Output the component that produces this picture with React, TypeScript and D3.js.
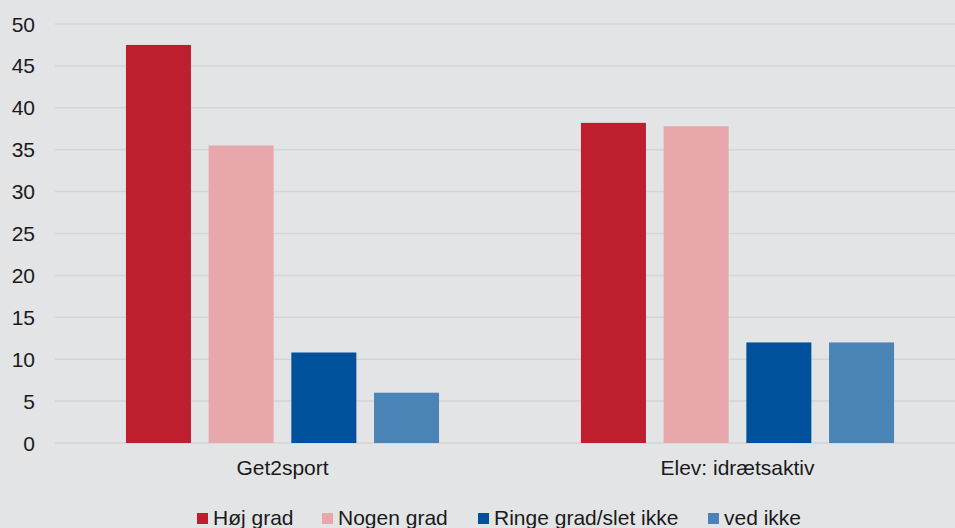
import * as d3 from "d3";
import React, { useEffect, useRef } from "react";

const categories = ["Get2sport", "Elev: idrætsaktiv"];
const seriesNames = ["Høj grad", "Nogen grad", "Ringe grad/slet ikke", "ved ikke"];
const seriesColors = ["#be1e2d", "#e8a7ab", "#00519c", "#4a83b6"];
const get2sportValues = [47.5, 35.5, 10.8, 6.0];
const elevValues = [38.2, 37.8, 12.0, 12.0];
const yTicks = [0, 5, 10, 15, 20, 25, 30, 35, 40, 45, 50];

const FONT = "'Liberation Sans', Arial, sans-serif";

const App = () => {
  const svgRef = useRef<SVGSVGElement>(null);

  useEffect(() => {
    const width = 955;
    const height = 528;
    const rows = [get2sportValues, elevValues];

    const svg = d3.select(svgRef.current).attr("width", width).attr("height", height);
    svg.selectAll("*").remove();

    svg.append("rect").attr("width", width).attr("height", height).attr("fill", "#e3e4e6");

    const y = d3.scaleLinear().domain([0, 50]).range([443, 24]);
    const x0 = d3
      .scaleBand<string>()
      .domain(categories)
      .range([55, 965])
      .paddingInner(0.273)
      .paddingOuter(0.1365);
    const x1 = d3
      .scaleBand<string>()
      .domain(seriesNames)
      .range([0, x0.bandwidth()])
      .paddingInner(0.214)
      .paddingOuter(0.107);

    // gridlines
    svg
      .selectAll("line.grid")
      .data(yTicks)
      .enter()
      .append("line")
      .attr("class", "grid")
      .attr("x1", 55)
      .attr("x2", width)
      .attr("y1", (d) => y(d))
      .attr("y2", (d) => y(d))
      .attr("stroke", "#d4d5d7")
      .attr("stroke-width", 1.5);

    // y labels
    svg
      .selectAll("text.ytick")
      .data(yTicks)
      .enter()
      .append("text")
      .attr("class", "ytick")
      .attr("x", 35)
      .attr("y", (d) => y(d))
      .attr("dy", "0.36em")
      .attr("text-anchor", "end")
      .style("font-family", FONT)
      .style("font-size", "21px")
      .style("fill", "#1a1a1a")
      .text((d) => d);

    // bars
    const groups = svg
      .selectAll("g.cat")
      .data(categories)
      .enter()
      .append("g")
      .attr("class", "cat")
      .attr("transform", (d) => `translate(${x0(d)},0)`);

    groups
      .selectAll("rect")
      .data((d, i) => rows[i].map((v, j) => ({ name: seriesNames[j], value: v, color: seriesColors[j] })))
      .enter()
      .append("rect")
      .attr("x", (d) => x1(d.name)!)
      .attr("width", x1.bandwidth())
      .attr("y", (d) => y(d.value))
      .attr("height", (d) => y(0) - y(d.value))
      .attr("fill", (d) => d.color);

    // category labels
    svg
      .selectAll("text.cat")
      .data(categories)
      .enter()
      .append("text")
      .attr("class", "cat")
      .attr("x", (d) => x0(d)! + x0.bandwidth() / 2)
      .attr("y", 475)
      .attr("text-anchor", "middle")
      .style("font-family", FONT)
      .style("font-size", "21px")
      .style("fill", "#1a1a1a")
      .text((d) => d);

    // legend
    const legendX = [197, 322, 478, 708];
    const legend = svg
      .selectAll("g.legend")
      .data(seriesNames)
      .enter()
      .append("g")
      .attr("class", "legend")
      .attr("transform", (d, i) => `translate(${legendX[i]},513)`);
    legend
      .append("rect")
      .attr("width", 11)
      .attr("height", 11)
      .attr("fill", (d, i) => seriesColors[i]);
    legend
      .append("text")
      .attr("x", 16)
      .attr("y", 11.5)
      .style("font-family", FONT)
      .style("font-size", "21px")
      .style("fill", "#1a1a1a")
      .text((d) => d);
  }, []);

  return (
    <div style={{ position: "absolute", left: 0, top: 0 }}>
      <svg ref={svgRef} style={{ display: "block" }}></svg>
    </div>
  );
};

export default App;
